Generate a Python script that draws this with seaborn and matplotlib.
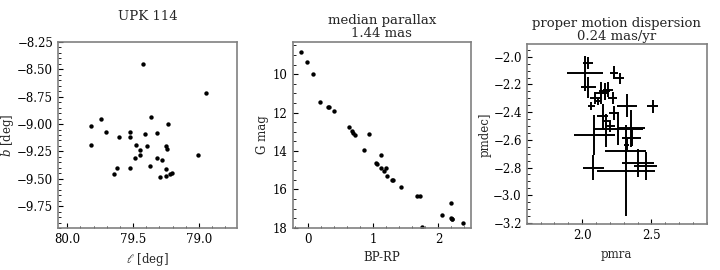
import matplotlib
matplotlib.use("Agg")
import matplotlib.pyplot as plt
import seaborn as sns
import numpy as np

# Panel 1: sky positions
l_deg = [79.427, 78.947, 79.740, 79.823, 79.364, 79.235, 79.707, 79.520, 79.520, 79.609,
         79.412, 79.318, 79.816, 79.480, 79.391, 79.250, 79.242, 79.444, 79.444, 79.008,
         79.482, 79.318, 79.278, 79.369, 79.621, 79.525, 79.253, 79.646, 79.293, 79.247,
         79.217, 79.207]
b_deg = [-8.449, -8.721, -8.954, -9.021, -8.932, -9.003, -9.076, -9.070, -9.119, -9.119,
         -9.091, -9.082, -9.189, -9.189, -9.205, -9.205, -9.226, -9.241, -9.284, -9.284,
         -9.312, -9.312, -9.327, -9.382, -9.401, -9.401, -9.407, -9.453, -9.480, -9.471,
         -9.459, -9.450]

# Panel 2: colour-magnitude diagram
bp_rp = [-0.118, -0.026, 0.066, 0.184, 0.297, 0.312, 0.394, 0.629, 0.675, 0.691,
         0.711, 0.931, 0.854, 1.120, 1.038, 1.054, 1.115, 1.187, 1.166, 1.202,
         1.279, 1.299, 1.432, 1.672, 1.724, 2.199, 2.055, 2.189, 2.215, 2.205,
         2.377, 1.755]
g_mag = [8.82, 9.36, 10.00, 11.43, 11.69, 11.71, 11.90, 12.73, 12.96, 13.04,
         13.18, 13.10, 13.95, 14.23, 14.64, 14.68, 14.90, 14.89, 15.06, 15.32,
         15.50, 15.53, 15.86, 16.33, 16.35, 16.73, 17.34, 17.51, 17.56, 17.53,
         17.74, 17.98]

# Panel 3: proper motions with errors
pmra = [2.043, 2.019, 2.043, 2.230, 2.271, 2.091, 2.067, 2.139, 2.163, 2.187,
        2.115, 2.219, 2.320, 2.508, 2.229, 2.147, 2.175, 2.199, 2.350, 2.257,
        2.087, 2.169, 2.356, 2.320, 2.313, 2.404, 2.457, 2.315, 2.079]
pmdec = [-2.045, -2.118, -2.221, -2.115, -2.154, -2.298, -2.358, -2.262, -2.250, -2.238,
         -2.322, -2.298, -2.354, -2.358, -2.406, -2.431, -2.467, -2.503, -2.516, -2.520,
         -2.566, -2.563, -2.587, -2.635, -2.678, -2.767, -2.790, -2.823, -2.803]
pmra_err = [0.036, 0.128, 0.054, 0.032, 0.032, 0.035, 0.025, 0.050, 0.040, 0.035,
            0.022, 0.030, 0.072, 0.038, 0.036, 0.040, 0.030, 0.035, 0.102, 0.180,
            0.148, 0.066, 0.069, 0.020, 0.146, 0.114, 0.080, 0.210, 0.075]
pmdec_err = [0.045, 0.126, 0.075, 0.048, 0.040, 0.040, 0.030, 0.080, 0.060, 0.055,
             0.025, 0.040, 0.084, 0.046, 0.048, 0.090, 0.050, 0.040, 0.134, 0.120,
             0.144, 0.087, 0.060, 0.040, 0.060, 0.100, 0.100, 0.330, 0.090]

sns.set_theme(style="white", rc={
    "axes.edgecolor": "#808080",
    "axes.linewidth": 1.2,
    "xtick.direction": "in",
    "ytick.direction": "in",
    "xtick.bottom": True,
    "ytick.left": True,
    "xtick.minor.visible": True,
    "ytick.minor.visible": True,
    "xtick.major.size": 3.5,
    "ytick.major.size": 3.5,
    "xtick.minor.size": 1.8,
    "ytick.minor.size": 1.8,
    "xtick.major.width": 0.8,
    "ytick.major.width": 0.8,
    "xtick.minor.width": 0.6,
    "ytick.minor.width": 0.6,
    "xtick.color": "black",
    "ytick.color": "black",
})
plt.rcParams["font.family"] = ["DejaVu Serif"]
plt.rcParams["mathtext.fontset"] = "dejavuserif"
plt.rcParams["axes.unicode_minus"] = True

fig = plt.figure(figsize=(7.2, 2.7), dpi=100)
ax1 = fig.add_axes([0.0806, 0.1556, 0.2486, 0.689])
ax2 = fig.add_axes([0.4065, 0.1567, 0.2476, 0.689])
ax3 = fig.add_axes([0.7315, 0.1693, 0.2504, 0.6667])

tick_fs = 8.5
label_fs = 8.5
title_fs = 9.5

## Sky positions ##
sns.scatterplot(x=l_deg, y=b_deg, ax=ax1, color="black", s=10, linewidth=0)
ax1.set_xlim(80.07, 78.71)
ax1.set_ylim(-9.95, -8.25)
ax1.set_xticks([80.0, 79.5, 79.0])
ax1.set_yticks([-8.25, -8.5, -8.75, -9.0, -9.25, -9.5, -9.75])
ax1.set_xlabel(r"$\ell$ [deg]", fontsize=label_fs)
ax1.set_ylabel(r"$b$ [deg]", fontsize=label_fs, labelpad=1)
ax1.set_title("UPK 114", fontsize=title_fs, pad=16)

## CMD ##
sns.scatterplot(x=bp_rp, y=g_mag, ax=ax2, color="black", s=10, linewidth=0)
ax2.set_xlim(-0.24, 2.5)
ax2.set_ylim(18, 8.3)
ax2.set_xticks([0, 1, 2])
ax2.set_yticks([10, 12, 14, 16, 18])
ax2.set_xlabel("BP-RP", fontsize=label_fs)
ax2.set_ylabel("G mag", fontsize=label_fs, labelpad=3)
ax2.set_title("median parallax\n1.44 mas", fontsize=title_fs, pad=3, linespacing=1.0)

## Proper motions ##
ax3.errorbar(pmra, pmdec, xerr=pmra_err, yerr=pmdec_err, fmt="none",
             ecolor="black", elinewidth=1.4, capsize=0)
ax3.set_xlim(1.6, 2.9)
ax3.set_ylim(-3.21, -1.91)
ax3.set_xticks([2.0, 2.5])
ax3.set_yticks([-2.0, -2.2, -2.4, -2.6, -2.8, -3.0, -3.2])
ax3.set_xlabel("pmra", fontsize=label_fs)
ax3.set_ylabel("pmdec]", fontsize=label_fs, labelpad=1)
ax3.set_title("proper motion dispersion\n0.24 mas/yr", fontsize=title_fs, pad=3, linespacing=1.0)

for ax in (ax1, ax2, ax3):
    ax.tick_params(which="both", top=False, right=False, labelsize=tick_fs)

plt.savefig("out.png", dpi=100)
